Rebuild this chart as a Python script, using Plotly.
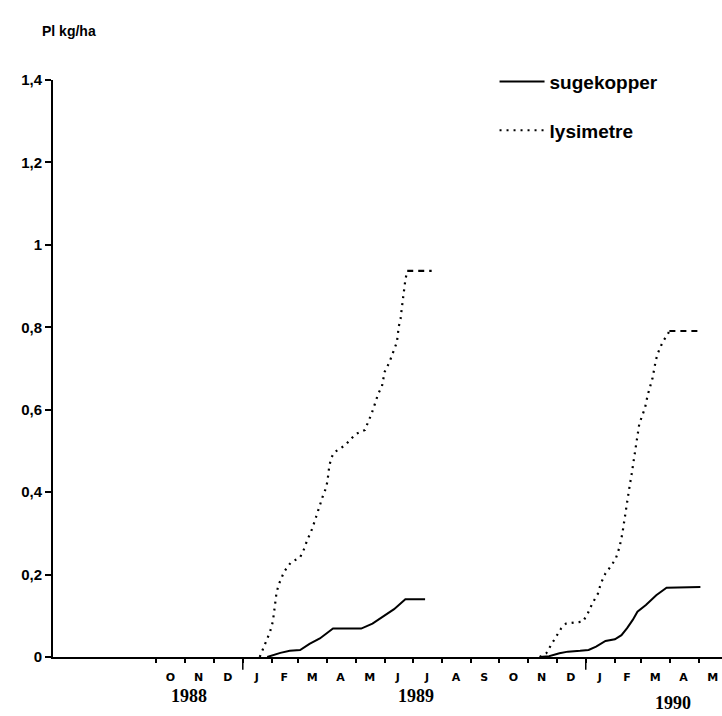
import plotly.graph_objects as go

# ---------------- data ----------------
lys89_dates = ["1989-01-19", "1989-01-23", "1989-01-30", "1989-02-02", "1989-02-04", "1989-02-06",
               "1989-02-09", "1989-02-14", "1989-02-21", "1989-03-03", "1989-03-07", "1989-03-10",
               "1989-03-16", "1989-03-21", "1989-03-27", "1989-03-30", "1989-04-01", "1989-04-03",
               "1989-04-05", "1989-04-08", "1989-04-14", "1989-04-20", "1989-05-01", "1989-05-11",
               "1989-05-14", "1989-05-18", "1989-05-22", "1989-05-25", "1989-05-29", "1989-06-01",
               "1989-06-06", "1989-06-09", "1989-06-14", "1989-06-16", "1989-06-18", "1989-06-19",
               "1989-06-20", "1989-06-22", "1989-06-23", "1989-06-25"]
lys89_vals = [0.0, 0.021, 0.061, 0.086, 0.122, 0.158,
              0.18, 0.207, 0.229, 0.242, 0.261, 0.28,
              0.312, 0.349, 0.389, 0.407, 0.425, 0.462,
              0.482, 0.496, 0.505, 0.514, 0.541, 0.551,
              0.568, 0.59, 0.617, 0.638, 0.656, 0.692,
              0.715, 0.733, 0.764, 0.802, 0.822, 0.842,
              0.861, 0.899, 0.915, 0.937]
lys89_plateau_dates = ["1989-06-25", "1989-07-21"]
lys89_plateau_vals = [0.937, 0.937]

suge89_dates = ["1989-01-27", "1989-02-03", "1989-02-10", "1989-02-20", "1989-03-03", "1989-03-13",
                "1989-03-24", "1989-03-31", "1989-04-07", "1989-04-18", "1989-05-07", "1989-05-19",
                "1989-06-01", "1989-06-11", "1989-06-23", "1989-07-14"]
suge89_vals = [0.0, 0.005, 0.01, 0.015, 0.017, 0.032,
               0.045, 0.057, 0.069, 0.069, 0.069, 0.081,
               0.102, 0.116, 0.14, 0.14]

lys90_dates = ["1989-11-13", "1989-11-20", "1989-11-25", "1989-11-30", "1989-12-06", "1989-12-11",
               "1989-12-20", "1989-12-29", "1990-01-03", "1990-01-08", "1990-01-14", "1990-01-17",
               "1990-01-22", "1990-01-28", "1990-02-02", "1990-02-06", "1990-02-09", "1990-02-11",
               "1990-02-14", "1990-02-16", "1990-02-19", "1990-02-21", "1990-02-23", "1990-02-25",
               "1990-02-27", "1990-03-02", "1990-03-05", "1990-03-08", "1990-03-10", "1990-03-13",
               "1990-03-16", "1990-03-18", "1990-03-20", "1990-03-24", "1990-03-29", "1990-03-31"]
lys90_vals = [0.0, 0.009, 0.029, 0.049, 0.07, 0.081,
              0.084, 0.086, 0.105, 0.13, 0.154, 0.178,
              0.203, 0.221, 0.239, 0.267, 0.3, 0.333,
              0.373, 0.405, 0.446, 0.478, 0.515, 0.545,
              0.566, 0.585, 0.604, 0.636, 0.652, 0.676,
              0.713, 0.733, 0.744, 0.765, 0.782, 0.791]
lys90_plateau_dates = ["1990-03-31", "1990-05-04"]
lys90_plateau_vals = [0.791, 0.791]

suge90_dates = ["1989-11-13", "1989-11-23", "1989-12-04", "1989-12-13", "1989-12-26", "1990-01-04",
                "1990-01-12", "1990-01-22", "1990-02-01", "1990-02-08", "1990-02-14", "1990-02-20",
                "1990-02-25", "1990-03-06", "1990-03-17", "1990-03-28", "1990-05-03"]
suge90_vals = [0.0, 0.002, 0.009, 0.013, 0.015, 0.017,
               0.025, 0.039, 0.043, 0.053, 0.07, 0.09,
               0.11, 0.126, 0.15, 0.168, 0.17]

month_letters = ["O", "N", "D", "J", "F", "M", "A", "M", "J", "J", "A", "S",
                 "O", "N", "D", "J", "F", "M", "A", "M"]
month_mid_dates = ["1988-10-16", "1988-11-15", "1988-12-16", "1989-01-16", "1989-02-14", "1989-03-16",
                   "1989-04-15", "1989-05-16", "1989-06-15", "1989-07-16", "1989-08-16", "1989-09-15",
                   "1989-10-16", "1989-11-15", "1989-12-16", "1990-01-16", "1990-02-14", "1990-03-16",
                   "1990-04-15", "1990-05-16"]
month_start_dates = ["1988-10-01", "1988-11-01", "1988-12-01", "1989-01-01", "1989-02-01", "1989-03-01",
                     "1989-04-01", "1989-05-01", "1989-06-01", "1989-07-01", "1989-08-01", "1989-09-01",
                     "1989-10-01", "1989-11-01", "1989-12-01", "1990-01-01", "1990-02-01", "1990-03-01",
                     "1990-04-01", "1990-05-01"]
year_labels = ["1988", "1989", "1990"]
year_label_dates = ["1988-11-05", "1989-07-04", "1990-04-04"]
year_start_dates = ["1989-01-01", "1990-01-01"]

y_tickvals = [0, 0.2, 0.4, 0.6, 0.8, 1.0, 1.2, 1.4]
y_ticktext = ["0", "0,2", "0,4", "0,6", "0,8", "1", "1,2", "1,4"]

# layout-only: vertical placement (paper units) of the year captions
year_label_ypos = [-0.068, -0.068, -0.08]

# ---------------- figure ----------------
BLACK = "#000000"
DOT = "2px,5px"
DASH = "6px,5px"

fig = go.Figure()
fig.add_trace(go.Scatter(x=suge89_dates, y=suge89_vals, mode="lines", name="sugekopper",
                         legendgroup="s", line=dict(color=BLACK, width=2)))
fig.add_trace(go.Scatter(x=suge90_dates, y=suge90_vals, mode="lines", name="sugekopper",
                         legendgroup="s", showlegend=False, line=dict(color=BLACK, width=2)))
fig.add_trace(go.Scatter(x=lys89_dates, y=lys89_vals, mode="lines", name="lysimetre",
                         legendgroup="l", line=dict(color=BLACK, width=2.2, dash=DOT)))
fig.add_trace(go.Scatter(x=lys89_plateau_dates, y=lys89_plateau_vals, mode="lines", name="lysimetre",
                         legendgroup="l", showlegend=False, line=dict(color=BLACK, width=2.2, dash=DASH)))
fig.add_trace(go.Scatter(x=lys90_dates, y=lys90_vals, mode="lines", name="lysimetre",
                         legendgroup="l", showlegend=False, line=dict(color=BLACK, width=2.2, dash=DOT)))
fig.add_trace(go.Scatter(x=lys90_plateau_dates, y=lys90_plateau_vals, mode="lines", name="lysimetre",
                         legendgroup="l", showlegend=False, line=dict(color=BLACK, width=2.2, dash=DASH)))

annotations = [dict(text="Pl kg/ha", x=-0.02, y=1.085, xref="paper", yref="paper",
                    xanchor="left", yanchor="middle", showarrow=False,
                    font=dict(family="Liberation Sans", size=14, color=BLACK, weight="bold"))]
for lab, d, yp in zip(year_labels, year_label_dates, year_label_ypos):
    annotations.append(dict(text=lab, x=d, y=yp, xref="x", yref="paper",
                            xanchor="center", yanchor="middle", showarrow=False,
                            font=dict(family="Liberation Serif", size=18, color=BLACK, weight="bold")))

shapes = [dict(type="line", xref="x", yref="paper", x0=d, x1=d, y0=0, y1=-0.022,
               line=dict(color=BLACK, width=1.5)) for d in year_start_dates]

fig.update_layout(
    width=722, height=716,
    margin=dict(l=53, r=0, t=80, b=59),
    paper_bgcolor="white", plot_bgcolor="white",
    showlegend=True,
    legend=dict(x=0.66, y=1.03, xanchor="left", yanchor="top", bgcolor="rgba(0,0,0,0)",
                font=dict(family="Liberation Sans", size=19, color=BLACK, weight="bold"),
                tracegroupgap=21, itemwidth=45),
    annotations=annotations,
    shapes=shapes,
    xaxis=dict(type="date", range=["1988-06-13", "1990-05-26"],
               showline=True, linecolor=BLACK, linewidth=2, showgrid=False, zeroline=False,
               tickmode="array", tickvals=month_mid_dates, ticktext=month_letters,
               ticks="", ticklabelstandoff=9,
               tickfont=dict(family="DejaVu Sans", size=11, color=BLACK, weight="bold"),
               minor=dict(tickmode="array", tickvals=month_start_dates, ticks="outside",
                          ticklen=4, tickwidth=1.5, tickcolor=BLACK, showgrid=False)),
    yaxis=dict(range=[0, 1.4], showline=True, linecolor=BLACK, linewidth=2,
               showgrid=False, zeroline=False,
               tickmode="array", tickvals=y_tickvals, ticktext=y_ticktext,
               ticks="outside", ticklen=6, tickwidth=1.5, tickcolor=BLACK,
               tickfont=dict(family="Liberation Sans", size=15, color=BLACK, weight="bold")),
)

fig.write_html("out.html")
